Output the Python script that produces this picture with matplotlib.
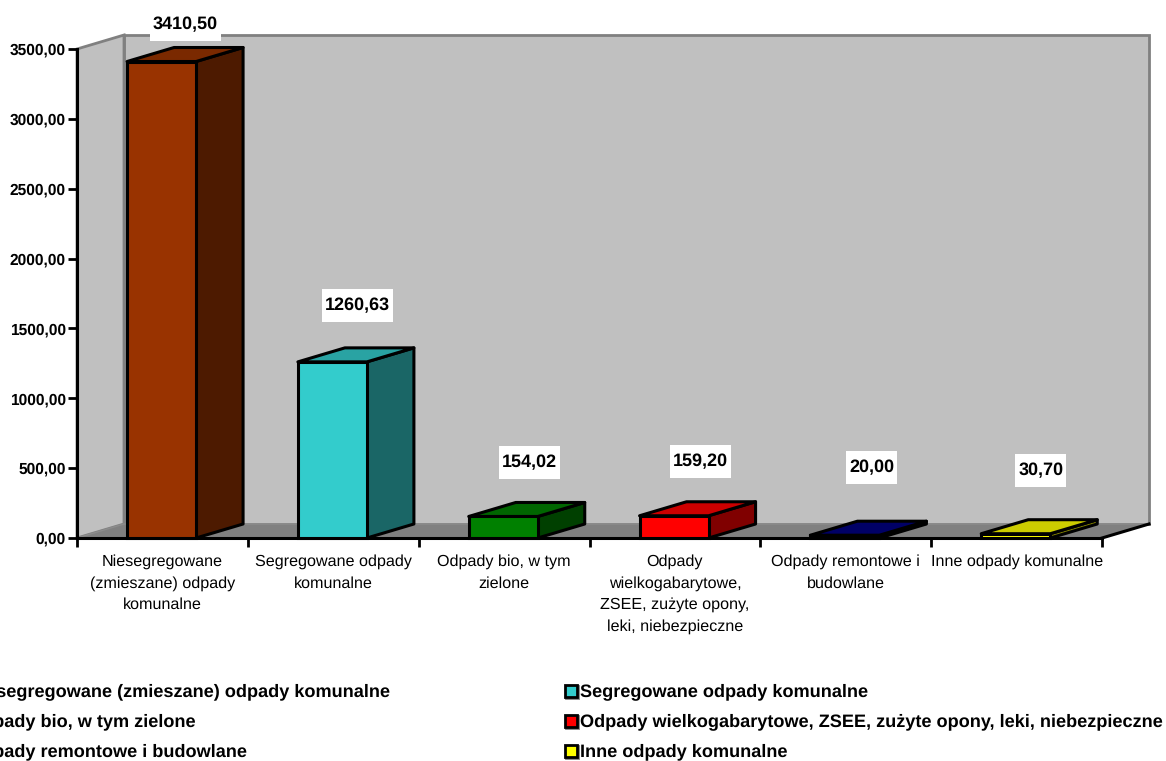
import matplotlib
matplotlib.use('Agg')
import matplotlib.pyplot as plt
from matplotlib.colors import to_rgb
from matplotlib.patches import Polygon, Rectangle

plt.rcParams['font.family'] = ['Liberation Sans', 'DejaVu Sans']
plt.rcParams['text.hinting'] = 'no_hinting'

# dane
categories = ['Niesegregowane\n(zmieszane) odpady\nkomunalne',
              'Segregowane odpady\nkomunalne',
              'Odpady bio, w tym\nzielone',
              'Odpady\nwielkogabarytowe,\nZSEE, zużyte opony,\nleki, niebezpieczne',
              'Odpady remontowe i\nbudowlane',
              'Inne odpady komunalne']
legend_labels = ['Niesegregowane (zmieszane) odpady komunalne',
                 'Segregowane odpady komunalne',
                 'Odpady bio, w tym zielone',
                 'Odpady wielkogabarytowe, ZSEE, zużyte opony, leki, niebezpieczne',
                 'Odpady remontowe i budowlane',
                 'Inne odpady komunalne']
values = [3410.50, 1260.63, 154.02, 159.20, 20.00, 30.70]
value_labels = ['3410,50', '1260,63', '154,02', '159,20', '20,00', '30,70']
colors = ['#993300', '#33cccc', '#008000', '#ff0000', '#000080', '#ffff00']
y_ticks = [0, 500, 1000, 1500, 2000, 2500, 3000, 3500]
y_tick_labels = ['0,00', '500,00', '1000,00', '1500,00', '2000,00', '2500,00', '3000,00', '3500,00']

# wielkosc w pikselach, glebokosc "3D" w jednostkach osi
W, H = 1166, 761
DX = 47 / 170.83
DY = 14 / 489 * 3500
YMAX = 3500
BAR_W = 0.404
# przesuniecie etykiet wartosci wzgledem srodka slupka (px)
label_shift = [(24, 37), (25, 56), (26, 54), (26, 54), (27, 68), (25, 63)]


def shade(color, k):
    return tuple(c * k for c in to_rgb(color))


fig = plt.figure(figsize=(W / 100, H / 100), dpi=100)
ax = fig.add_axes([77 / W, (H - 538) / H, 1025 / W, 489 / H])
ax.set_xlim(0, 6)
ax.set_ylim(0, YMAX)
ax.patch.set_visible(False)
for s in ['top', 'right']:
    ax.spines[s].set_visible(False)
for s in ['left', 'bottom']:
    ax.spines[s].set_linewidth(2.2)
    ax.spines[s].set_zorder(4)

# sciany i podloga
ax.add_patch(Polygon([(DX, DY), (6 + DX, DY), (6 + DX, YMAX + DY), (DX, YMAX + DY)],
                     fc='#c0c0c0', ec='#808080', lw=2, clip_on=False, zorder=1))
ax.add_patch(Polygon([(0, 0), (DX, DY), (DX, YMAX + DY), (0, YMAX)],
                     fc='#c0c0c0', ec='#808080', lw=2, clip_on=False, zorder=1))
ax.add_patch(Polygon([(0, 0), (6, 0), (6 + DX, DY), (DX, DY)],
                     fc='#808080', ec='#8c8c8c', lw=1, clip_on=False, zorder=2))
ax.plot([6, 6 + DX], [0, DY], color='black', lw=2.2, clip_on=False, zorder=4)

# slupki
texts = []
for i, v in enumerate(values):
    x0 = i + 0.293
    x1 = x0 + BAR_W
    c = colors[i]
    ax.add_patch(Polygon([(x1, 0), (x1 + DX, DY), (x1 + DX, v + DY), (x1, v)],
                         fc=shade(c, 0.5), ec='black', lw=2.2, joinstyle='round', clip_on=False, zorder=5))
    ax.add_patch(Polygon([(x0, v), (x1, v), (x1 + DX, v + DY), (x0 + DX, v + DY)],
                         fc=shade(c, 0.8), ec='black', lw=2.2, joinstyle='round', clip_on=False, zorder=5))
    ax.bar(x0, v, BAR_W, align='edge', color=c, edgecolor='black', lw=2.2, zorder=6, clip_on=False)
    dx, dy = label_shift[i]
    t = ax.annotate(value_labels[i], xy=(x0 + BAR_W / 2, v + DY), xytext=(dx * 0.72, dy * 0.72 - 14 * 0.72),
                    textcoords='offset points', ha='center', va='center', fontsize=13, fontweight='bold',
                    zorder=8, annotation_clip=False)
    texts.append(t)

# biale tla etykiet: szerokosc wg tekstu, wysokosc stala 33 px
fig.canvas.draw()
for t in texts:
    bb = t.get_window_extent()
    cy = (bb.y0 + bb.y1) / 2
    fig.add_artist(Rectangle((bb.x0 - 3, cy - 16.5), bb.width + 6, 33, transform=None,
                             fc='white', ec='none', zorder=7))
    ax.set_zorder(1)
    t.remove()
    fig.text((bb.x0 + bb.x1) / 2 / W, (bb.y0 + bb.y1) / 2 / H, t.get_text(), ha='center', va='center',
             fontsize=13, fontweight='bold', zorder=9)

# osie
ax.set_yticks(y_ticks)
ax.set_yticklabels(y_tick_labels, fontsize=11.2, fontweight='bold')
ax.tick_params(axis='y', length=6.5, width=2, pad=1.5)
ax.set_xticks(range(7))
ax.set_xticklabels([])
ax.tick_params(axis='x', length=6.5, width=2)
for i, name in enumerate(categories):
    ax.annotate(name, xy=(i + 0.5, 0), xytext=(0, -11.7), textcoords='offset points',
                ha='center', va='top', fontsize=11.6, linespacing=1.58, annotation_clip=False)

# legenda (pierwsza kolumna jest ucieta lewa krawedzia obrazka)
legend_y = [692, 722, 752]
for i, name in enumerate(legend_labels):
    row = legend_y[i // 2]
    tx = -32 if i % 2 == 0 else 580
    fig.text(tx / W, 1 - row / H, name, fontsize=13.1, fontweight='bold', va='center', ha='left')
    sx = (tx - 15.5) / W
    sy = 1 - (row + 4.5) / H
    fig.add_artist(Rectangle((sx + 1.5 / W, sy - 1.5 / H), 12 / W, 12 / H, transform=fig.transFigure,
                             fc='#808080', ec='#808080', lw=2))
    fig.add_artist(Rectangle((sx, sy), 12 / W, 12 / H, transform=fig.transFigure,
                             fc=colors[i], ec='black', lw=2))

fig.savefig('out.png', dpi=100)
